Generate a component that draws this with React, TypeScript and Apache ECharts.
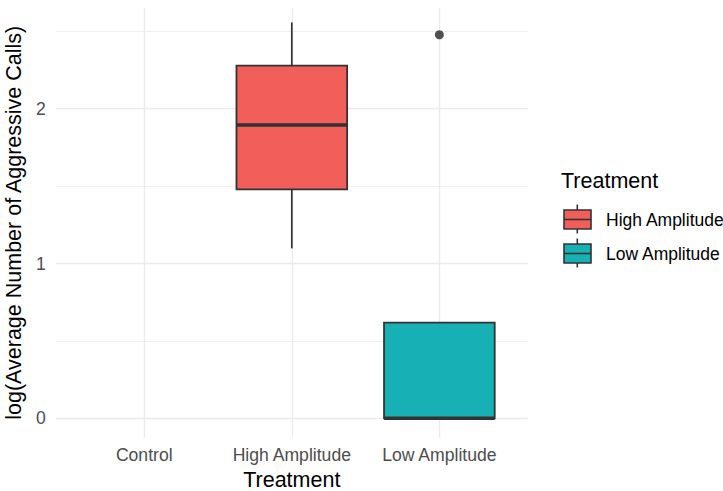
import React, { useEffect, useRef } from "react";
import * as echarts from "echarts";

const categories = ["Control", "High Amplitude", "Low Amplitude"];
const groups = ["High Amplitude", "Low Amplitude"];
const groupColors = ["#F25E5A", "#17B1B5"];
const whiskerLow = [1.098, 0];
const q1 = [1.479, 0];
const medians = [1.895, 0];
const q3 = [2.278, 0.618];
const whiskerHigh = [2.558, 0.618];
const outlierGroups = ["Low Amplitude"];
const outlierValues = [2.478];
const yTicks = [0, 1, 2];
const yMinorTicks = [0.5, 1.5, 2.5];
const xTitle = "Treatment";
const yTitle = "log(Average Number of Aggressive Calls)";
const legendTitle = "Treatment";

const FONT = '"Liberation Sans", Arial, Helvetica, sans-serif';
const EDGE = "#333333";
const GRID = "#EBEBEB";

export default function App() {
  const ref = useRef<HTMLDivElement>(null);
  useEffect(() => {
    if (!ref.current) return;
    const chart = echarts.init(ref.current, null, { renderer: "svg" });
    const boxData = groups.map((g, i) => ({
      value: [categories.indexOf(g), whiskerLow[i], q1[i], medians[i], q3[i], whiskerHigh[i]],
      itemStyle: { color: groupColors[i] },
    }));
    const outlierData = outlierGroups.map((g, i) => [categories.indexOf(g), outlierValues[i]]);
    const half = 0.375;

    const legendEls: any[] = [
      {
        type: "text",
        left: 561,
        top: 170,
        style: { text: legendTitle, fontSize: 21.5, fontFamily: FONT, fill: "#000" },
      },
    ];
    groups.forEach((g, i) => {
      const cy = 219.5 + 34 * i;
      legendEls.push(
        { type: "line", shape: { x1: 577.3, y1: cy - 15, x2: 577.3, y2: cy + 14 }, style: { stroke: EDGE, lineWidth: 1.6 } },
        { type: "rect", shape: { x: 564, y: cy - 9.5, width: 27, height: 19 }, style: { fill: groupColors[i], stroke: EDGE, lineWidth: 1.6 } },
        { type: "line", shape: { x1: 564, y1: cy, x2: 591, y2: cy }, style: { stroke: EDGE, lineWidth: 1.6 } },
        { type: "text", x: 606, y: cy, style: { text: g, fontSize: 17.5, fontFamily: FONT, fill: "#000", verticalAlign: "middle" } }
      );
    });

    chart.setOption({
      animation: false,
      backgroundColor: "#ffffff",
      grid: { left: 55.7, right: 195.1, top: 8.3, bottom: 53.7, outerBoundsMode: "none", containLabel: false },
      xAxis: {
        type: "value",
        min: -0.6,
        max: 2.6,
        name: xTitle,
        nameLocation: "middle",
        nameGap: 31,
        nameTextStyle: { fontSize: 21.5, lineHeight: 18, fontFamily: FONT, color: "#000" },
        axisLine: { show: false },
        axisTick: { show: false, customValues: [0, 1, 2] },
        axisLabel: {
          customValues: [0, 1, 2],
          formatter: (v: number) => categories[Math.round(v)],
          fontSize: 17.6,
          fontFamily: FONT,
          color: "#4D4D4D",
          margin: 9,
        },
        splitLine: { show: true, lineStyle: { color: GRID, width: 1.3 } },
      },
      yAxis: [
        {
          type: "value",
          min: -0.123,
          max: 2.649,
          name: yTitle,
          nameLocation: "middle",
          nameGap: 27,
          nameTextStyle: { fontSize: 21.5, fontFamily: FONT, color: "#000" },
          axisLine: { show: false },
          axisTick: { show: false, customValues: yTicks },
          axisLabel: { customValues: yTicks, fontSize: 17.6, fontFamily: FONT, color: "#4D4D4D", margin: 10 },
          splitLine: { show: true, lineStyle: { color: GRID, width: 1.3 } },
        },
        {
          type: "value",
          min: -0.123,
          max: 2.649,
          position: "left",
          axisLine: { show: false },
          axisTick: { show: false, customValues: yMinorTicks },
          axisLabel: { show: false, customValues: yMinorTicks },
          splitLine: { show: true, lineStyle: { color: "#EFEFEF", width: 1 } },
        },
      ],
      series: [
        {
          type: "custom",
          xAxisIndex: 0,
          yAxisIndex: 0,
          encode: { x: 0, y: [1, 2, 3, 4, 5] },
          data: boxData,
          renderItem: (params: any, api: any) => {
            const x = api.value(0) as number;
            const pl = api.coord([x - half, api.value(2)]);
            const pr = api.coord([x + half, api.value(4)]);
            const plo = api.coord([x, api.value(1)]);
            const phi = api.coord([x, api.value(5)]);
            const pm = api.coord([x, api.value(3)]);
            const color = groupColors[params.dataIndex];
            return {
              type: "group",
              children: [
                { type: "line", shape: { x1: plo[0], y1: plo[1], x2: plo[0], y2: pl[1] }, style: { stroke: EDGE, lineWidth: 1.7 } },
                { type: "line", shape: { x1: phi[0], y1: pr[1], x2: phi[0], y2: phi[1] }, style: { stroke: EDGE, lineWidth: 1.7 } },
                {
                  type: "rect",
                  shape: { x: pl[0], y: pr[1], width: pr[0] - pl[0], height: pl[1] - pr[1] },
                  style: { fill: color, stroke: EDGE, lineWidth: 1.8 },
                },
                { type: "line", shape: { x1: pl[0], y1: pm[1], x2: pr[0], y2: pm[1] }, style: { stroke: EDGE, lineWidth: 3.4 } },
              ],
            };
          },
        },
        {
          type: "scatter",
          xAxisIndex: 0,
          yAxisIndex: 0,
          data: outlierData,
          symbol: "circle",
          symbolSize: 9,
          itemStyle: { color: "#262626" },
        },
      ],
      graphic: legendEls,
    });
    return () => chart.dispose();
  }, []);
  return <div ref={ref} style={{ position: "fixed", left: 0, top: 0, width: 723, height: 491 }} />;
}
